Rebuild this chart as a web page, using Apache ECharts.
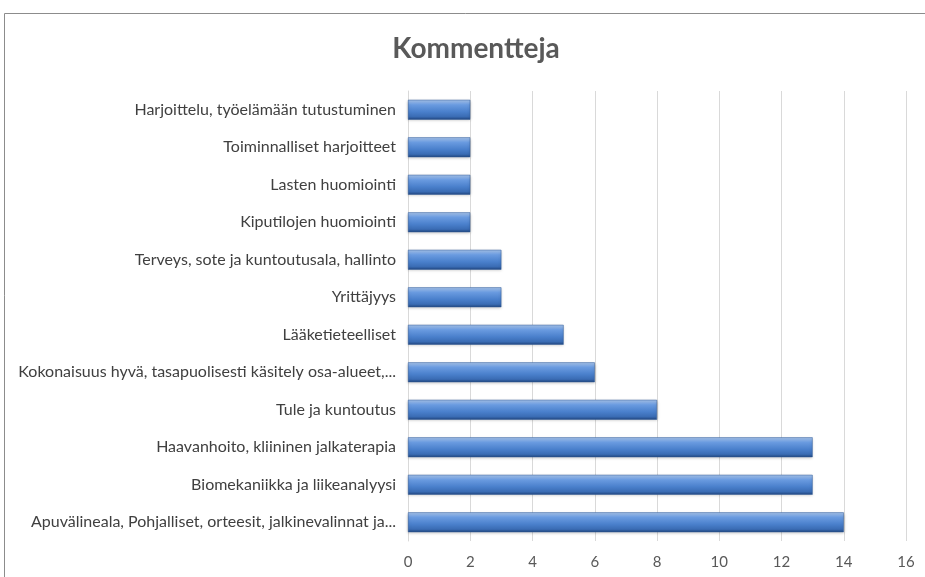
<!DOCTYPE html>
<html>
<head>
<meta charset="utf-8">
<script src="https://cdn.jsdelivr.net/npm/echarts@6/dist/echarts.min.js"></script>
<style>
  html, body { margin: 0; padding: 0; background: #fff; }
  #chart { width: 925px; height: 577px; }
</style>
</head>
<body>
<div id="chart"></div>
<script>
// categories listed bottom to top (category axis starts at the bottom)
const categories = [
  'Apuvälineala, Pohjalliset, orteesit, jalkinevalinnat ja...',
  'Biomekaniikka ja liikeanalyysi',
  'Haavanhoito, kliininen jalkaterapia',
  'Tule ja kuntoutus',
  'Kokonaisuus hyvä, tasapuolisesti käsitely osa-alueet,...',
  'Lääketieteelliset',
  'Yrittäjyys',
  'Terveys, sote ja kuntoutusala, hallinto',
  'Kiputilojen huomiointi',
  'Lasten huomiointi',
  'Toiminnalliset harjoitteet',
  'Harjoittelu, työelämään tutustuminen'
]
const counts = [14, 13, 13, 8, 6, 5, 3, 3, 2, 2, 2, 2]

const chart = echarts.init(document.getElementById('chart'))
chart.setOption({
  animation: false,
  title: {
    text: 'Kommentteja',
    left: 471,
    textAlign: 'center',
    top: 30,
    textStyle: {
      fontFamily: 'Lato',
      fontSize: 28,
      fontWeight: 'bold',
      color: '#595959'
    }
  },
  graphic: [{
    type: 'rect',
    shape: { x: 4.5, y: 13.5, width: 960, height: 620 },
    style: { fill: 'none', stroke: '#8c8c8c', lineWidth: 1 },
    silent: true
  }],
  grid: { left: 408, right: 19, top: 91, bottom: 36 },
  xAxis: {
    type: 'value',
    min: 0,
    max: 16,
    interval: 2,
    axisLine: { show: false },
    axisTick: { show: false },
    axisLabel: {
      fontFamily: 'Lato',
      fontSize: 15,
      color: '#595959',
      margin: 14
    },
    splitLine: { lineStyle: { color: '#d9d9d9', width: 1 } }
  },
  yAxis: {
    type: 'category',
    data: categories,
    axisLine: { show: true, lineStyle: { color: '#d9d9d9' } },
    axisTick: { show: false },
    axisLabel: {
      fontFamily: 'Lato',
      fontSize: 16,
      color: '#404040',
      margin: 12
    }
  },
  series: [{
    type: 'bar',
    data: counts,
    barWidth: '53%',
    itemStyle: {
      color: {
        type: 'linear', x: 0, y: 0, x2: 0, y2: 1,
        colorStops: [
          { offset: 0, color: '#a9c6ee' },
          { offset: 0.25, color: '#6a9be0' },
          { offset: 0.6, color: '#4a80cc' },
          { offset: 0.85, color: '#3a6cb4' },
          { offset: 1, color: '#22477f' }
        ]
      },
      borderColor: '#2f5a99',
      borderWidth: 0.5,
      shadowColor: 'rgba(0,0,0,0.25)',
      shadowBlur: 3,
      shadowOffsetY: 1
    }
  }]
})
</script>
</body>
</html>
